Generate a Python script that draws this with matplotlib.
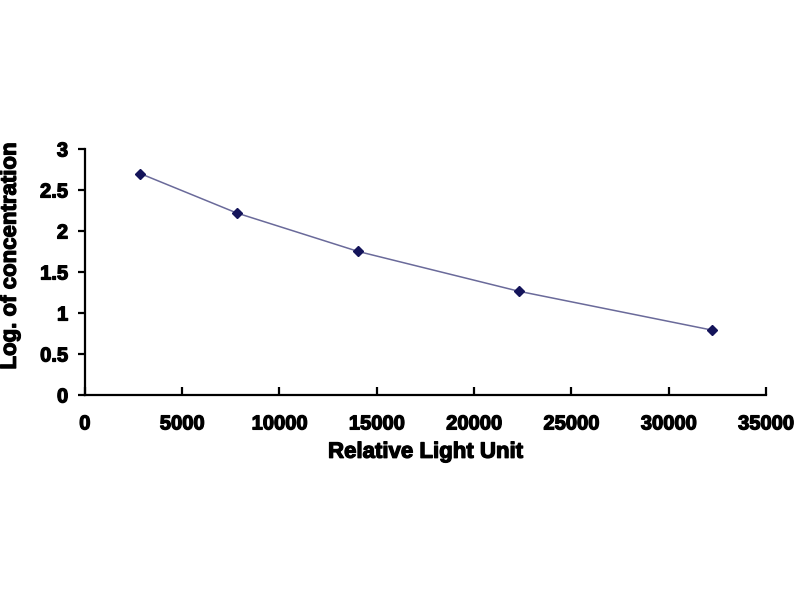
import matplotlib.pyplot as plt
import matplotlib.patheffects as pe
import numpy as np

# standard curve readings
rlu = [2850, 7800, 14050, 22300, 32250]
log_conc = [2.70, 2.22, 1.75, 1.265, 0.79]

x_ticks = [0, 5000, 10000, 15000, 20000, 25000, 30000, 35000]
y_ticks = [0, 0.5, 1, 1.5, 2, 2.5, 3]

plt.rcParams['font.family'] = ['Liberation Sans', 'DejaVu Sans']

fig = plt.figure(figsize=(8, 6), dpi=100)
ax = fig.add_axes([0.106, 0.3417, 0.8515, 0.41])

ax.plot(rlu, log_conc, color='#6a6a9a', linewidth=1.1,
        marker='D', markersize=5, markerfacecolor='#14145a', markeredgecolor='#14145a')

ax.set_xlim(0, 35000)
ax.set_ylim(0, 3)
ax.set_xticks(x_ticks)
ax.set_yticks(y_ticks)
ax.set_yticklabels([f'{v:g}' for v in y_ticks])

for s in ['top', 'right']:
    ax.spines[s].set_visible(False)
for s in ['left', 'bottom']:
    ax.spines[s].set_linewidth(1.6)

heavy = [pe.withStroke(linewidth=0.9, foreground='black')]

ax.tick_params(axis='x', direction='in', length=6, width=1.6, labelsize=14.5, pad=14)
ax.tick_params(axis='y', direction='out', length=5, width=1.6, labelsize=14.5, pad=7)
for lab in ax.get_xticklabels() + ax.get_yticklabels():
    lab.set_fontweight('bold')
    lab.set_path_effects(heavy)

ax.set_xlabel('Relative Light Unit', fontsize=16, fontweight='bold', labelpad=6,
              path_effects=heavy)
ax.set_ylabel('Log. of concentration', fontsize=16, fontweight='bold',
              path_effects=heavy)
ax.yaxis.set_label_coords(-0.094, 0.565)

fig.savefig('out.png', dpi=100)
